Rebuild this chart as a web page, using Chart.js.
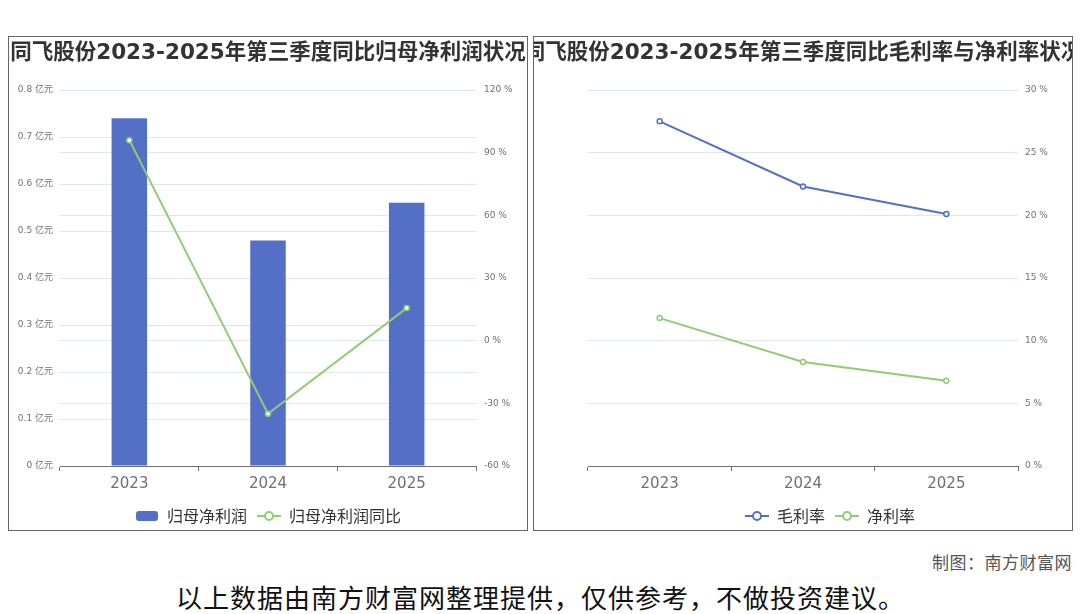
<!DOCTYPE html>
<html>
<head>
<meta charset="utf-8">
<script src="https://cdn.jsdelivr.net/npm/chart.js@4.4.1/dist/chart.umd.min.js"></script>
<style>
  body { margin: 0; width: 1080px; height: 614px; background: #fff; position: relative; overflow: hidden;
         font-family: "Noto Sans CJK SC", "Noto Sans", sans-serif; }
  .panel { position: absolute; top: 36px; height: 493px; border: 1px solid #666; overflow: hidden; }
  #leftBox { left: 8px; width: 518px; }
  #rightBox { left: 533px; width: 538px; }
  .panel canvas { display: block; }
  .title { position: absolute; left: 0; top: 0; width: 100%; height: 30px; line-height: 30px;
           display: flex; justify-content: center; white-space: nowrap;
           font-family: "DejaVu Sans", "Noto Sans CJK SC", sans-serif; font-weight: bold;
           font-size: 21.5px; color: #333; }
  #maker { position: absolute; right: 8px; top: 549px; font-size: 17px; color: #555; letter-spacing: 0.5px; }
  #note { position: absolute; left: 176px; top: 578px; font-size: 26px; color: #111; white-space: nowrap; letter-spacing: 1px; }
</style>
</head>
<body>
<div class="panel" id="leftBox">
  <canvas id="leftChart" width="518" height="497"></canvas>
  <div class="title" id="leftTitle"></div>
</div>
<div class="panel" id="rightBox">
  <canvas id="rightChart" width="538" height="497"></canvas>
  <div class="title" id="rightTitle"></div>
</div>
<div id="maker">制图：南方财富网</div>
<div id="note">以上数据由南方财富网整理提供，仅供参考，不做投资建议。</div>
<script>
// Data
const years = ['2023', '2024', '2025'];
const netProfit = [0.74, 0.48, 0.56];        // 亿元
const netProfitYoY = [96, -35, 15.6];         // %
const grossMargin = [27.5, 22.3, 20.1];       // %
const netMargin = [11.8, 8.3, 6.8];           // %

const leftTitle = '同飞股份2023-2025年第三季度同比归母净利润状况';
const rightTitle = '同飞股份2023-2025年第三季度同比毛利率与净利率状况';

const BLUE = '#5470c6';
const GREEN = '#91cc75';
const AXIS = '#6e7079';
const GRID = '#e0e6f1';
const FONT = '"DejaVu Sans", "Noto Sans CJK SC", sans-serif';

document.getElementById('leftTitle').textContent = leftTitle;
document.getElementById('rightTitle').textContent = rightTitle;

Chart.defaults.font.family = FONT;
Chart.defaults.animation = false;

// legend icons in echarts style
function barIcon(color) {
    const c = document.createElement('canvas');
    c.width = 22; c.height = 12;
    const g = c.getContext('2d');
    g.fillStyle = color;
    g.beginPath();
    g.roundRect(0, 1, 22, 10, 3);
    g.fill();
    return c;
}
function lineIcon(color) {
    const c = document.createElement('canvas');
    c.width = 24; c.height = 12;
    const g = c.getContext('2d');
    g.strokeStyle = color;
    g.lineWidth = 2;
    g.beginPath(); g.moveTo(0, 6); g.lineTo(24, 6); g.stroke();
    g.fillStyle = '#fff';
    g.beginPath(); g.arc(12, 6, 4, 0, Math.PI * 2); g.fill(); g.stroke();
    return c;
}

function legendOpts(icons) {
    return {
        position: 'bottom',
        labels: {
            usePointStyle: true,
            pointStyleWidth: 24,
            boxHeight: 16,
            padding: 10,
            color: '#333',
            font: { size: 16, family: '"Noto Sans CJK SC", sans-serif' },
            generateLabels: chart => chart.data.datasets.map((ds, i) => ({
                text: ds.label,
                pointStyle: icons[i],
                datasetIndex: i,
                fontColor: '#333',
                lineWidth: 0
            }))
        }
    };
}

const xAxis = {
    offset: true,
    afterFit: s => { s.height = 32; },
    grid: { display: true, drawOnChartArea: false, offset: true, color: AXIS, tickLength: 5 },
    border: { color: AXIS },
    ticks: { color: AXIS, font: { size: 15 }, padding: 4 }
};

// Left: bar + yoy line
new Chart(document.getElementById('leftChart'), {
    type: 'bar',
    data: {
        labels: years,
        datasets: [
            {
                type: 'bar', label: '归母净利润', data: netProfit,
                backgroundColor: BLUE, yAxisID: 'y',
                barPercentage: 0.256, categoryPercentage: 1, order: 2
            },
            {
                type: 'line', label: '归母净利润同比', data: netProfitYoY,
                borderColor: GREEN, borderWidth: 2, yAxisID: 'y1',
                pointRadius: 2.5, pointBackgroundColor: '#fff', pointBorderColor: GREEN, pointBorderWidth: 1.5,
                order: 1
            }
        ]
    },
    options: {
        responsive: false,
        layout: { padding: { top: 53, left: 0, right: 0, bottom: 0 } },
        plugins: {
            title: { display: false },
            legend: legendOpts([barIcon(BLUE), lineIcon(GREEN)]),
            tooltip: { enabled: false }
        },
        scales: {
            x: xAxis,
            y: {
                position: 'left', min: 0, max: 0.8,
                afterFit: s => { s.width = 51; },
                grid: { color: GRID, drawTicks: false },
                border: { display: false },
                ticks: { stepSize: 0.1, padding: 7, color: AXIS, font: { size: 9 },
                         callback: v => (Math.round(v * 10) / 10) + ' 亿元' }
            },
            y1: {
                position: 'right', min: -60, max: 120,
                afterFit: s => { s.width = 51; },
                grid: { color: GRID, drawTicks: false },
                border: { display: false },
                ticks: { stepSize: 30, padding: 8, color: AXIS, font: { size: 9 },
                         callback: v => v + ' %' }
            }
        }
    }
});

// Right: margins
new Chart(document.getElementById('rightChart'), {
    type: 'line',
    data: {
        labels: years,
        datasets: [
            {
                label: '毛利率', data: grossMargin, borderColor: BLUE, borderWidth: 2,
                pointRadius: 2.5, pointBackgroundColor: '#fff', pointBorderColor: BLUE, pointBorderWidth: 1.5
            },
            {
                label: '净利率', data: netMargin, borderColor: GREEN, borderWidth: 2,
                pointRadius: 2.5, pointBackgroundColor: '#fff', pointBorderColor: GREEN, pointBorderWidth: 1.5
            }
        ]
    },
    options: {
        responsive: false,
        layout: { padding: { top: 53, left: 54, right: 0, bottom: 0 } },
        plugins: {
            title: { display: false },
            legend: legendOpts([lineIcon(BLUE), lineIcon(GREEN)]),
            tooltip: { enabled: false }
        },
        scales: {
            x: xAxis,
            y: {
                position: 'right', min: 0, max: 30,
                afterFit: s => { s.width = 54; },
                grid: { color: GRID, drawTicks: false },
                border: { display: false },
                ticks: { stepSize: 5, padding: 7, color: AXIS, font: { size: 9 },
                         callback: v => v + ' %' }
            }
        }
    }
});
</script>
</body>
</html>
